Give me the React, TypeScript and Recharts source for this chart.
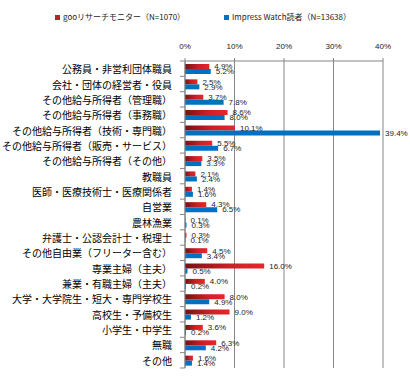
import React from 'react';
import { BarChart, Bar, XAxis, YAxis, CartesianGrid, Legend, LabelList } from 'recharts';

const categories = [
  '公務員・非営利団体職員',
  '会社・団体の経営者・役員',
  'その他給与所得者（管理職）',
  'その他給与所得者（事務職）',
  'その他給与所得者（技術・専門職）',
  'その他給与所得者（販売・サービス）',
  'その他給与所得者（その他）',
  '教職員',
  '医師・医療技術士・医療関係者',
  '自営業',
  '農林漁業',
  '弁護士・公認会計士・税理士',
  'その他自由業（フリーター含む）',
  '専業主婦（主夫）',
  '兼業・有職主婦（主夫）',
  '大学・大学院生・短大・専門学校生',
  '高校生・予備校生',
  '小学生・中学生',
  '無職',
  'その他',
];

const gooValues = [4.9, 2.5, 3.7, 8.6, 10.1, 5.5, 3.5, 2.1, 1.4, 4.3, 0.1, 0.3, 4.5, 16.0, 4.0, 8.0, 9.0, 3.6, 6.3, 1.6];
const impressValues = [5.2, 2.9, 7.8, 8.0, 39.4, 6.7, 3.3, 2.4, 1.6, 6.5, 0.3, 0.1, 3.4, 0.5, 0.2, 4.9, 1.2, 0.2, 4.2, 1.4];

const xTicks = [0, 10, 20, 30, 40];
const seriesNames = ['gooリサーチモニター（N=1070）', 'Impress Watch読者（N=13638）'];
const seriesKeys = ['goo', 'impress'];
const legendColors = ['#c0202a', '#0070c0'];

const data = categories.map((name, i) => ({ name, goo: gooValues[i], impress: impressValues[i] }));

const W = 410;
const H = 380;
const MARGIN = { top: 0, right: 27, bottom: 12, left: 0 };
const LEGEND_H = 30;
const XAXIS_H = 31;
const YAXIS_W = 185;
const AXIS_X = MARGIN.left + YAXIS_W;
const PLOT_H = H - MARGIN.top - MARGIN.bottom - LEGEND_H - XAXIS_H;
const GRAY = '#868686';
const FONT = '"Noto Sans CJK JP", "Noto Sans", sans-serif';

const CategoryTick = (props: any) => {
  const { y, payload, index } = props;
  const band = PLOT_H / categories.length;
  return (
    <g>
      <line x1={AXIS_X - 5} x2={AXIS_X} y1={y - band / 2} y2={y - band / 2} stroke={GRAY} />
      {index === categories.length - 1 && (
        <line x1={AXIS_X - 5} x2={AXIS_X} y1={y + band / 2} y2={y + band / 2} stroke={GRAY} />
      )}
      <text x={AXIS_X - 13} y={y + 1} dy="0.35em" textAnchor="end" fontSize={10} fill="#000" fontFamily={FONT}>
        {payload.value}
      </text>
    </g>
  );
};

const LegendContent = () => (
  <div style={{ height: LEGEND_H, position: 'relative', width: W, fontFamily: FONT, fontSize: 8, color: '#222' }}>
    <div style={{ position: 'absolute', left: 55, top: 12, display: 'flex', alignItems: 'center' }}>
      {seriesNames.map((n, i) => (
        <div key={n} style={{ display: 'flex', alignItems: 'center', width: i === 0 ? 169 : 'auto' }}>
          <span style={{ display: 'inline-block', width: 5, height: 5, background: legendColors[i], marginRight: 3 }} />
          <span style={{ whiteSpace: 'nowrap', lineHeight: '10px' }}>{n}</span>
        </div>
      ))}
    </div>
  </div>
);

const fmt = (v: any) => `${Number(v).toFixed(1)}%`;

export default function App() {
  return (
    <div style={{ position: 'absolute', left: 0, top: 0, width: W, height: H, background: '#fff', fontFamily: FONT }}>
      <BarChart
        width={W}
        height={H}
        data={data}
        layout="vertical"
        margin={MARGIN}
        barSize={5}
        barGap={0}
      >
        <defs>
          <linearGradient id="redGrad" x1="0" y1="0" x2="1" y2="0">
            <stop offset="0" stopColor="#741214" />
            <stop offset="0.55" stopColor="#cc1f26" />
            <stop offset="1" stopColor="#e8262c" />
          </linearGradient>
        </defs>
        <Legend verticalAlign="top" align="left" content={<LegendContent />} />
        <CartesianGrid horizontal={false} vertical={true} stroke={GRAY} strokeDasharray="" />
        <XAxis
          type="number"
          orientation="top"
          domain={[0, 40]}
          ticks={xTicks}
          tickFormatter={(v: number) => `${v}%`}
          height={XAXIS_H}
          axisLine={{ stroke: GRAY }}
          tickLine={{ stroke: GRAY }}
          tickSize={3}
          tickMargin={9}
          tick={{ fontSize: 8, fill: '#222', fontFamily: 'Liberation Sans, sans-serif' }}
          interval={0}
        />
        <YAxis
          type="category"
          dataKey="name"
          width={YAXIS_W}
          axisLine={{ stroke: GRAY }}
          tickLine={false}
          tick={<CategoryTick />}
          interval={0}
        />
        <Bar dataKey={seriesKeys[0]} name={seriesNames[0]} fill="url(#redGrad)" isAnimationActive={false}>
          <LabelList dataKey={seriesKeys[0]} position="right" offset={5} formatter={fmt}
            style={{ fontSize: 8, fill: '#222', fontFamily: 'Liberation Sans, sans-serif' }} />
        </Bar>
        <Bar dataKey={seriesKeys[1]} name={seriesNames[1]} fill="#0070c0" isAnimationActive={false}>
          <LabelList dataKey={seriesKeys[1]} position="right" offset={5} formatter={fmt}
            style={{ fontSize: 8, fill: '#222', fontFamily: 'Liberation Sans, sans-serif' }} />
        </Bar>
      </BarChart>
    </div>
  );
}
